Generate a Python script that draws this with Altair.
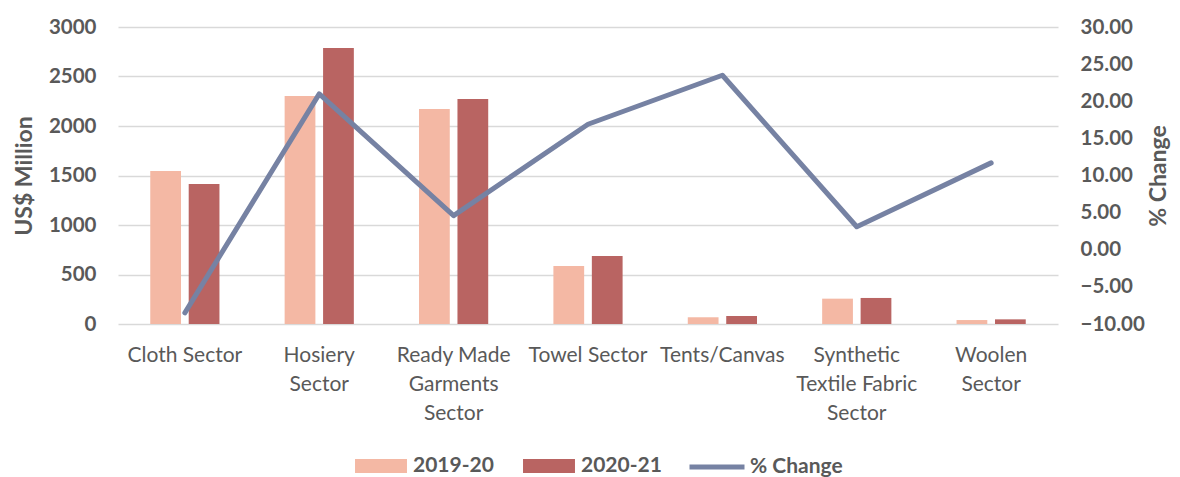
import altair as alt
import pandas as pd

categories = ["Cloth Sector", "Hosiery|Sector", "Ready Made|Garments|Sector", "Towel Sector",
              "Tents/Canvas", "Synthetic|Textile Fabric|Sector", "Woolen|Sector"]
years = ["2019-20", "2020-21"]
v2019 = [1545, 2303, 2172, 586, 68, 256, 40]
v2020 = [1414, 2788, 2273, 687, 81, 263, 47]
pct_change = [-8.5, 21.0, 4.6, 16.9, 23.5, 3.1, 11.7]

bar_rows = []
for c, a, b in zip(categories, v2019, v2020):
    bar_rows.append({"cat": c, "year": years[0], "value": a})
    bar_rows.append({"cat": c, "year": years[1], "value": b})
bars_df = pd.DataFrame(bar_rows)
line_df = pd.DataFrame({"cat": categories, "pct": pct_change, "series": ["% Change"] * len(categories)})

FONT = "Lato"
GREY = "#595959"

x_enc = alt.X("cat:N", sort=categories,
              scale=alt.Scale(paddingInner=0.485, paddingOuter=0.24),
              axis=alt.Axis(title=None, labelExpr="split(datum.label, '|')", labelAngle=0,
                            labelFontSize=21, labelColor=GREY, labelFont=FONT,
                            labelLineHeight=29, labelPadding=20, labelBaseline="top",
                            domain=False, ticks=False))

bars = alt.Chart(bars_df).mark_bar().encode(
    x=x_enc,
    xOffset=alt.XOffset("year:N", sort=years, scale=alt.Scale(paddingInner=0.2)),
    y=alt.Y("value:Q", scale=alt.Scale(domain=[0, 3000]),
            axis=alt.Axis(title="US$ Million", values=[0, 500, 1000, 1500, 2000, 2500, 3000],
                          format="d",
                          grid=True, gridColor="#D9D9D9", gridWidth=1.5,
                          domain=False, ticks=False, labelFontSize=20.5, labelFontWeight="bold",
                          labelColor=GREY, labelFont=FONT, labelPadding=22,
                          titleFontSize=23, titleFontWeight="bold", titleColor=GREY,
                          titleFont=FONT, titlePadding=12)),
    color=alt.Color("year:N", sort=years,
                    scale=alt.Scale(domain=years, range=["#F4B8A4", "#B96462"]),
                    legend=alt.Legend(title=None, orient="none", legendX=237, legendY=413,
                                      direction="horizontal",
                                      symbolType="M-1,-0.27H1V0.27H-1Z", symbolSize=2700,
                                      symbolStrokeWidth=0, labelFontSize=21,
                                      labelFontWeight="bold", labelColor=GREY, labelFont=FONT,
                                      columnPadding=29, labelOffset=6))
)

line = alt.Chart(line_df).mark_line(strokeWidth=5, strokeCap="round", strokeJoin="round").encode(
    x=alt.X("cat:N", sort=categories),
    y=alt.Y("pct:Q", scale=alt.Scale(domain=[-10, 30]),
            axis=alt.Axis(title="% Change", orient="right", format=".2f",
                          values=[-10, -5, 0, 5, 10, 15, 20, 25, 30],
                          grid=False, domain=False, ticks=False, labelFontSize=20.5,
                          labelFontWeight="bold", labelColor=GREY, labelFont=FONT,
                          labelPadding=22, titleFontSize=23, titleFontWeight="bold",
                          titleColor=GREY, titleFont=FONT, titleAngle=270, titlePadding=26)),
    stroke=alt.Stroke("series:N", scale=alt.Scale(domain=["% Change"], range=["#7682A3"]),
                      legend=alt.Legend(title=None, orient="none", legendX=569, legendY=410,
                                        symbolType="stroke",
                                        symbolStrokeWidth=5, symbolSize=3025,
                                        labelFontSize=21, labelFontWeight="bold",
                                        labelColor=GREY, labelFont=FONT, labelOffset=3))
)

chart = alt.layer(bars, line).resolve_scale(y="independent").properties(
    width=940, height=297, padding={"left": 5, "top": 9, "right": 0, "bottom": 0}
).configure_view(stroke=None)

chart.save("out.html", embed_options={"renderer": "svg", "actions": False})
